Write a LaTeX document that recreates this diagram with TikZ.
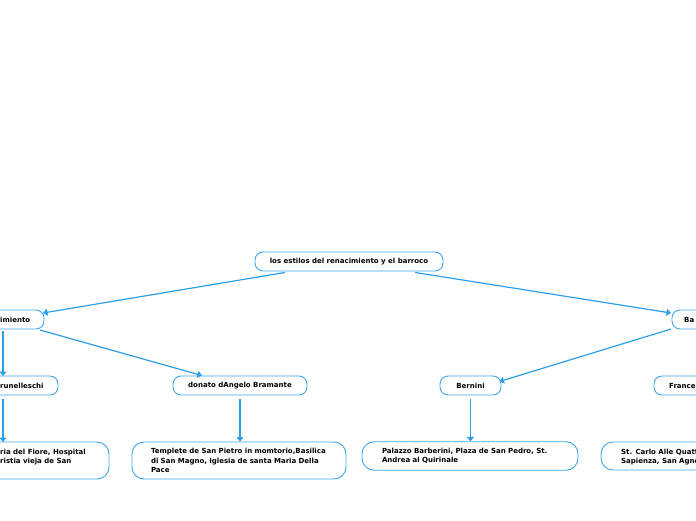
\documentclass[tikz,border=0pt]{standalone}
\usepackage{fontspec}
\setmainfont{DejaVu Sans}
\usetikzlibrary{arrows.meta}
\definecolor{lineblue}{RGB}{45,158,232}
\definecolor{boxblue}{RGB}{60,165,235}
\newcommand{\nodefont}{\fontsize{7}{9.5}\selectfont\bfseries}
\begin{document}
\begin{tikzpicture}[x=1pt,y=-1pt,
  box/.style={draw=boxblue, line width=0.9pt, rounded corners=8pt, fill=white,
    font=\nodefont, text=black, inner ysep=0pt, minimum height=19pt},
  tbox/.style={box, align=left, rounded corners=12pt, inner xsep=19pt},
  boxline/.style={draw=boxblue, line width=0.9pt, fill=white},
  lbl/.style={font=\nodefont, text=black, inner sep=0pt},
  conn/.style={draw=lineblue, line width=1.2pt, -{Triangle[length=4.5pt,width=7pt]}}]
\useasboundingbox (0,0) rectangle (696,520);
\clip (0,0) rectangle (696,520);
% boxes cut off at the picture's edges
\path[boxline, rounded corners=8pt] (0,310) -| (44,329) -- (0,329);
\path[boxline, rounded corners=8pt] (696,310) -| (672,329) -- (696,329);
\path[boxline, rounded corners=8pt] (0,376) -| (58,395) -- (0,395);
\path[boxline, rounded corners=8pt] (696,376) -| (654,395) -- (696,395);
\path[boxline, rounded corners=12pt] (0,442) -| (109,479) -- (0,479);
\path[boxline, rounded corners=12pt] (696,442) -| (601,470) -- (696,470);
\coordinate (renE) at (44,319.5);
\coordinate (renB) at (3,329);
\coordinate (renSE) at (44,329);
\coordinate (barW) at (672,319.5);
\coordinate (barSW) at (672,329);
\coordinate (bruT) at (3,376);
\coordinate (bruB) at (3,395);
\coordinate (brucT) at (3,442);
% level 0
\node[box, minimum width=188pt] (root) at (349,261.5) {los estilos del renacimiento y el barroco};
% level 1
\node[lbl, anchor=west] (ren) at (0,319.5) {imiento};
\node[lbl, anchor=west] (bar) at (684,319.5) {Ba};
% level 2
\node[lbl, anchor=west] (bru) at (0,385.5) {runelleschi};
\node[box, minimum width=134pt] (bra) at (240,385.5) {donato dAngelo Bramante};
\node[box, minimum width=61pt] (ber) at (470.5,385.5) {Bernini};
\node[lbl, anchor=west] (fra) at (669,385.5) {France};
% level 3
\node[lbl, align=left, anchor=north west] (bruc) at (0,448.6)
  {ria del Fiore, Hospital\\ristia vieja de San};
\node[tbox, text width=176pt, minimum height=37pt] (tem) at (239,460.5)
  {Templete de San Pietro in momtorio,Basilica\\di San Magno, Iglesia de santa Maria Della\\Pace};
\node[tbox, text width=176pt, inner xsep=20pt, minimum height=28.5pt] (pal) at (470,456)
  {Palazzo Barberini, Plaza de San Pedro, St.\\Andrea al Quirinale};
\node[lbl, align=left, anchor=north west] (car) at (621,448.6)
  {St. Carlo Alle Quatt\\Sapienza, San Agne};
% connectors
\draw[conn] ([xshift=-64pt,yshift=-1pt]root.south) -- ([xshift=-1pt,yshift=6.5pt]renE);
\draw[conn] ([xshift=66pt,yshift=-1pt]root.south) -- ([xshift=-1pt,yshift=6.5pt]barW);
\draw[conn] ([yshift=-2pt]renB) -- (bruT);
\draw[conn] ([xshift=-4pt,yshift=-1pt]renSE) -- ([xshift=-38pt]bra.north);
\draw[conn] ([xshift=-1pt]barSW) -- ([xshift=-2pt,yshift=4pt]ber.east);
\draw[conn] ([yshift=-4pt]bruB) -- (brucT);
\draw[conn] ([yshift=-4pt]bra.south) -- (bra.south |- tem.north);
\draw[conn] ([yshift=-4pt]ber.south) -- (ber.south |- pal.north);
\end{tikzpicture}
\end{document}
